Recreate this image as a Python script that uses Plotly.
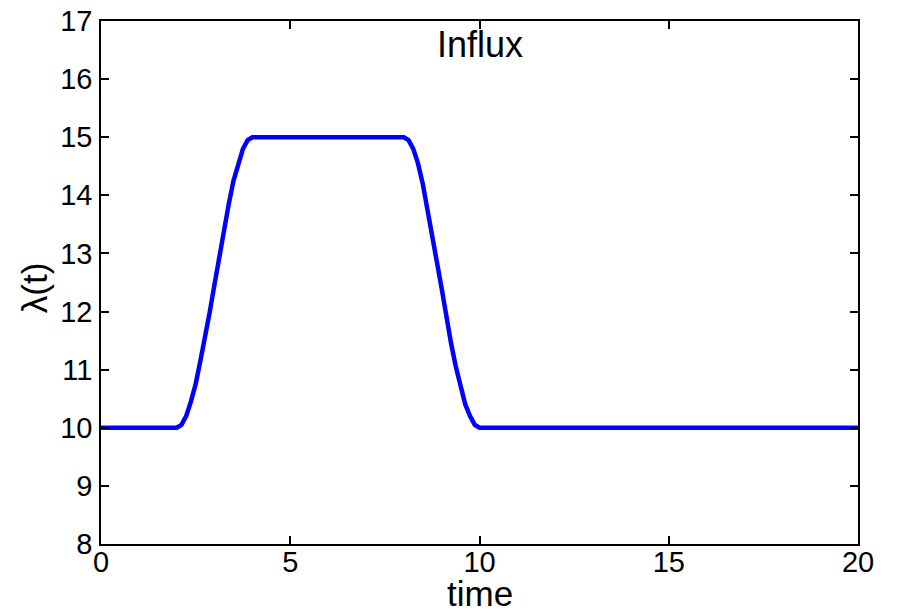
import plotly.graph_objects as go

# Influx lambda(t)
time = [0.0, 2.0, 2.125, 2.25, 2.375, 2.5, 2.625, 2.75, 2.875, 3.0, 3.125,
        3.25, 3.375, 3.5, 3.625, 3.75, 3.875, 4.0,
        8.0, 8.125, 8.25, 8.375, 8.5, 8.625, 8.75, 8.875, 9.0, 9.125,
        9.25, 9.375, 9.5, 9.625, 9.75, 9.875, 10.0, 20.0]
lam = [10.0, 10.0, 10.05, 10.2, 10.45, 10.75, 11.15, 11.55, 12.0, 12.47, 12.95,
       13.44, 13.85, 14.25, 14.55, 14.8, 14.95, 15.0,
       15.0, 14.95, 14.8, 14.55, 14.2, 13.78, 13.3, 12.85, 12.4, 11.9,
       11.45, 11.05, 10.7, 10.4, 10.2, 10.05, 10.0, 10.0]

x_ticks = [0, 5, 10, 15, 20]
y_ticks = [8, 9, 10, 11, 12, 13, 14, 15, 16, 17]

FONT = "Arial, 'Liberation Sans', Helvetica, sans-serif"

fig = go.Figure()
fig.add_trace(go.Scatter(
    x=time, y=lam, mode="lines",
    line=dict(color="#0000FF", width=4.5),
    showlegend=False, hoverinfo="skip",
))

axis_common = dict(
    showgrid=False, zeroline=False, showline=True, linecolor="black",
    linewidth=1.5, mirror="ticks", ticks="inside", ticklen=8,
    tickwidth=1.5, tickcolor="black", automargin=False,
    tickfont=dict(family=FONT, size=29, color="black"),
)

fig.update_layout(
    width=897, height=613,
    margin=dict(l=101, r=39, t=21, b=69, pad=0, autoexpand=False),
    paper_bgcolor="white", plot_bgcolor="white",
    xaxis=dict(range=[0, 20], tickvals=x_ticks, ticklabelstandoff=-9, **axis_common),
    yaxis=dict(range=[8, 17], tickvals=y_ticks, ticklabelstandoff=1, **axis_common),
    annotations=[
        dict(text="Influx", xref="paper", yref="paper", x=0.5, y=1,
             xanchor="center", yanchor="top", yshift=-1, showarrow=False,
             font=dict(family=FONT, size=36, color="black")),
        dict(text="time", xref="paper", yref="paper", x=0.5, y=0,
             xanchor="center", yanchor="top", yshift=-29, showarrow=False,
             borderpad=0,
             font=dict(family=FONT, size=35, color="black")),
        dict(text="λ(t)", xref="paper", yref="paper", x=0, y=0.489,
             xanchor="center", yanchor="middle", xshift=-67, textangle=-90,
             showarrow=False,
             font=dict(family=FONT, size=35, color="black")),
    ],
)

fig.write_html("out.html")
